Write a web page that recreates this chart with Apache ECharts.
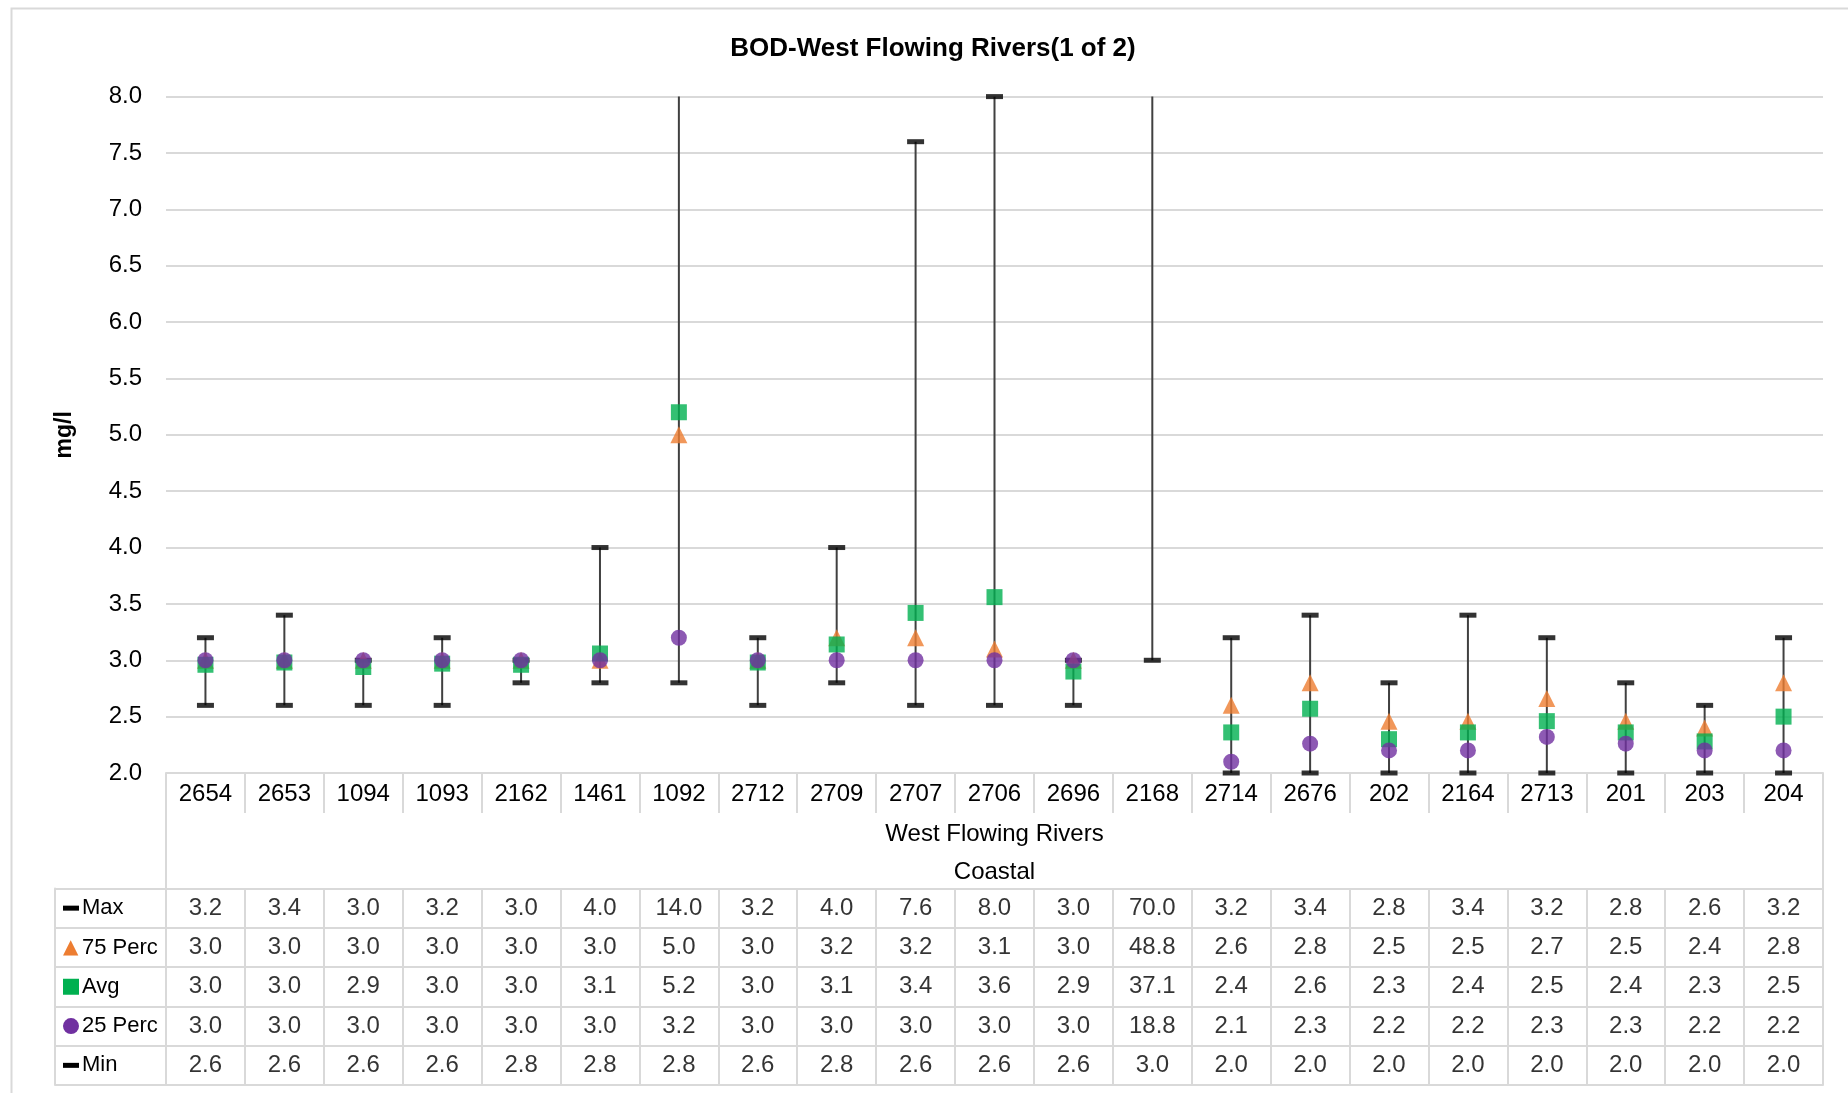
<!DOCTYPE html>
<html>
<head>
<meta charset="utf-8">
<script src="https://cdn.jsdelivr.net/npm/echarts@6/dist/echarts.min.js"></script>
<style>html,body{margin:0;padding:0;background:#fff}#c{width:1848px;height:1093px}</style>
</head>
<body>
<div id="c"></div>
<script>
const categories = ['2654','2653','1094','1093','2162','1461','1092','2712','2709','2707','2706','2696','2168','2714','2676','202','2164','2713','201','203','204'];
const maxV = [3.2,3.4,3.0,3.2,3.0,4.0,14.0,3.2,4.0,7.6,8.0,3.0,70.0,3.2,3.4,2.8,3.4,3.2,2.8,2.6,3.2];
const p75  = [3.0,3.0,3.0,3.0,3.0,3.0,5.0,3.0,3.2,3.2,3.1,3.0,48.8,2.6,2.8,2.46,2.46,2.66,2.46,2.4,2.8];
const avg  = [2.96,2.98,2.94,2.97,2.96,3.06,5.2,2.98,3.14,3.42,3.56,2.9,37.1,2.36,2.57,2.3,2.36,2.46,2.36,2.28,2.5];
const p25  = [3.0,3.0,3.0,3.0,3.0,3.0,3.2,3.0,3.0,3.0,3.0,3.0,18.8,2.1,2.26,2.2,2.2,2.32,2.26,2.2,2.2];
const minV = [2.6,2.6,2.6,2.6,2.8,2.8,2.8,2.6,2.8,2.6,2.6,2.6,3.0,2.0,2.0,2.0,2.0,2.0,2.0,2.0,2.0];
const rowNames = ['Max','75 Perc','Avg','25 Perc','Min'];
const groupLabel = 'West Flowing Rivers\nCoastal';
const titleText = 'BOD-West Flowing Rivers(1 of 2)';
const yName = 'mg/l';

const FONT = "'Liberation Sans Narrow','Arial Narrow','Liberation Sans',Arial,sans-serif";
const GRID = '#d9d9d9';
const rowsData = [maxV, p75, avg, p25, minV];
const tableData = [];
rowsData.forEach((arr, r) => arr.forEach((v, i) => tableData.push([i, r, v])));
const rangeData = categories.map((c, i) => [i, minV[i], maxV[i]]);

const chart = echarts.init(document.getElementById('c'), null, {renderer: 'canvas'});
const iconKey = {'Max':'dash','75 Perc':'tri','Avg':'sq','25 Perc':'dot','Min':'dash'};

chart.setOption({
  backgroundColor: '#fff',
  animation: false,
  textStyle: {fontFamily: FONT},
  title: {
    text: titleText, left: 928, top: 31, textAlign: 'center',
    textStyle: {fontSize: 26, fontWeight: 'bold', color: '#000', fontFamily: FONT}
  },
  graphic: [{
    type: 'rect', left: 9, top: 6, silent: true,
    shape: {width: 1900, height: 1200},
    style: {fill: 'none', stroke: GRID, lineWidth: 2}
  }],
  grid: [
    {left: 166, right: 25, top: 96.6, height: 676.4, containLabel: false},
    {left: 166, right: 25, top: 888.5, height: 196.5, containLabel: false}
  ],
  xAxis: [
    {
      type: 'category', gridIndex: 0, data: categories, boundaryGap: true,
      axisLine: {show: true, lineStyle: {color: GRID, width: 2}},
      axisTick: {show: true, interval: 0, length: 40, lineStyle: {color: GRID, width: 2}},
      axisLabel: {interval: 0, margin: 9, fontSize: 24, color: '#000', fontFamily: FONT},
      splitLine: {show: false}
    },
    {
      type: 'category', gridIndex: 0, position: 'bottom', offset: 40, data: [groupLabel],
      axisLine: {show: false},
      axisTick: {show: true, interval: 0, length: 76, lineStyle: {color: GRID, width: 2}},
      axisLabel: {interval: 0, margin: 2, fontSize: 24, lineHeight: 38, color: '#000', fontFamily: FONT},
      splitLine: {show: false}
    },
    {
      type: 'category', gridIndex: 1, data: categories, boundaryGap: true,
      axisLine: {show: true, lineStyle: {color: GRID, width: 2}},
      axisTick: {show: false}, axisLabel: {show: false},
      splitLine: {show: true, interval: 0, lineStyle: {color: GRID, width: 2}}
    }
  ],
  yAxis: [
    {
      type: 'value', gridIndex: 0, min: 2, max: 8, interval: 0.5,
      name: yName, nameLocation: 'middle', nameRotate: 90, nameGap: 90,
      nameTextStyle: {fontSize: 23, fontWeight: 'bold', color: '#000', fontFamily: FONT},
      axisLine: {show: false}, axisTick: {show: false},
      axisLabel: {margin: 24, fontSize: 24, color: '#000', fontFamily: FONT, formatter: v => v.toFixed(1)},
      splitLine: {show: true, lineStyle: {color: GRID, width: 2}}
    },
    {
      type: 'category', gridIndex: 1, data: rowNames, inverse: true, boundaryGap: true,
      axisLine: {show: true, lineStyle: {color: GRID, width: 2}},
      axisTick: {show: true, interval: 0, length: 111, lineStyle: {color: GRID, width: 2}},
      splitLine: {show: true, interval: 0, lineStyle: {color: GRID, width: 2}},
      axisLabel: {
        interval: 0, align: 'left', margin: 103,
        formatter: v => '{' + iconKey[v] + '|' + (iconKey[v] === 'tri' ? '▲' : ' ') + '}{t|' + v + '}',
        rich: {
          dash: {width: 16, height: 5, backgroundColor: '#000', fontSize: 5},
          sq: {width: 16, height: 16, backgroundColor: '#00B050', fontSize: 5},
          dot: {width: 16, height: 16, borderRadius: 8, backgroundColor: '#7030A0', fontSize: 5},
          tri: {width: 16, color: '#ED7D31', fontSize: 20, fontFamily: 'DejaVu Sans'},
          t: {fontSize: 22, color: '#000', padding: [0, 0, 0, 3], fontFamily: FONT}
        }
      }
    },
    {
      type: 'category', gridIndex: 1, data: rowNames, inverse: true, position: 'left', offset: 111,
      axisLine: {show: true, lineStyle: {color: GRID, width: 2}},
      axisTick: {show: false}, axisLabel: {show: false}, splitLine: {show: false}
    }
  ],
  series: [
    {
      type: 'custom', name: 'range', xAxisIndex: 0, yAxisIndex: 0, clip: true, silent: true,
      data: rangeData, encode: {x: 0, y: [1, 2]}, z: 1,
      renderItem: (params, api) => {
        const lo = api.coord([api.value(0), api.value(1)]);
        const hi = api.coord([api.value(0), api.value(2)]);
        return {type: 'line', shape: {x1: lo[0], y1: lo[1], x2: hi[0], y2: hi[1]},
                style: {stroke: '#404040', lineWidth: 2}};
      }
    },
    {type: 'scatter', name: 'Min', data: minV, symbol: 'rect', symbolSize: [17, 5], clip: false, z: 2,
     itemStyle: {color: '#000'}, silent: true},
    {type: 'scatter', name: 'Max', data: maxV, symbol: 'rect', symbolSize: [17, 5], clip: true, z: 2,
     itemStyle: {color: '#000'}, silent: true},
    {type: 'scatter', name: '75 Perc', data: p75, symbol: 'triangle', symbolSize: 17, clip: true, z: 3,
     itemStyle: {color: '#ED7D31'}, silent: true},
    {type: 'scatter', name: 'Avg', data: avg, symbol: 'rect', symbolSize: 16, clip: true, z: 4,
     itemStyle: {color: '#00B050'}, silent: true},
    {type: 'scatter', name: '25 Perc', data: p25, symbol: 'circle', symbolSize: 16, clip: true, z: 5,
     itemStyle: {color: '#7030A0'}, silent: true},
    {
      type: 'scatter', name: 'table', xAxisIndex: 2, yAxisIndex: 1, data: tableData,
      encode: {x: 0, y: 1}, symbolSize: 1, itemStyle: {color: 'rgba(0,0,0,0)'}, silent: true,
      label: {show: true, position: 'inside', fontSize: 24, color: '#000', fontFamily: FONT,
              formatter: p => p.value[2].toFixed(1)}
    }
  ]
});
</script>
</body>
</html>
